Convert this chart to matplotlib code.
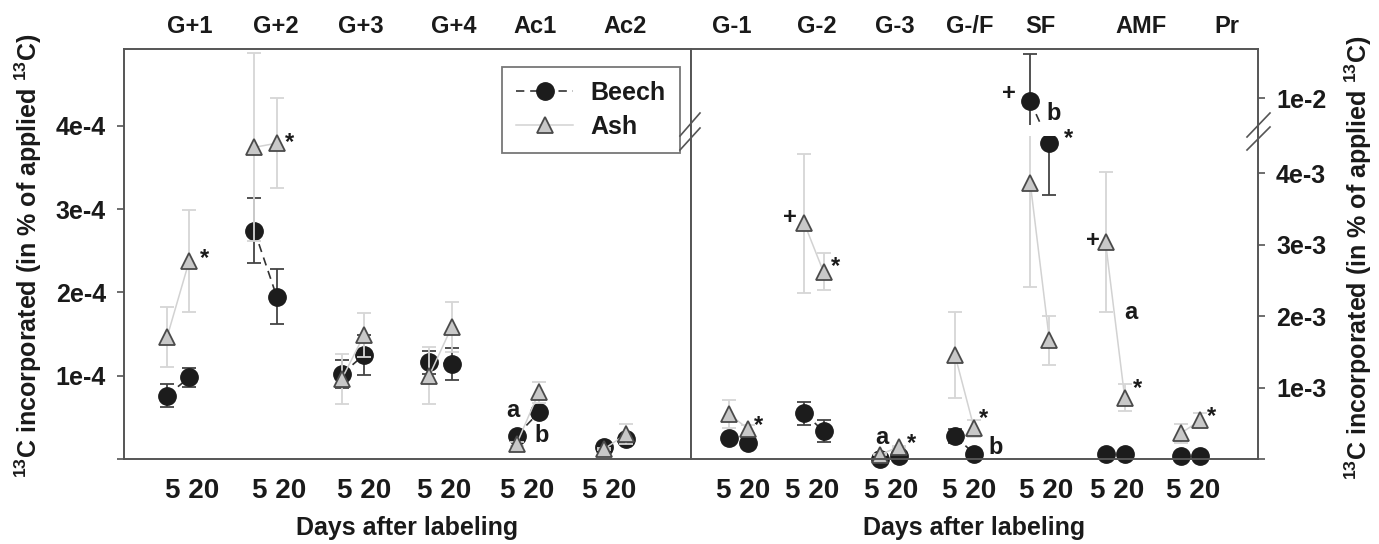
import matplotlib
matplotlib.use("Agg")
import matplotlib.pyplot as plt
import numpy as np
from matplotlib.lines import Line2D

plt.rcParams['font.family'] = ['Liberation Sans', 'DejaVu Sans']
plt.rcParams['font.weight'] = 'bold'
plt.rcParams['mathtext.default'] = 'regular'

# ---- data: left panel (x 1e-4 % of applied 13C) ----
groups_left = ["G+1", "G+2", "G+3", "G+4", "Ac1", "Ac2"]
beech5_left = np.array([0.76, 2.74, 1.02, 1.16, 0.28, 0.15]) * 1e-4
beech5_left_se = np.array([0.135, 0.39, 0.17, 0.14, 0.03, 0.02]) * 1e-4
beech20_left = np.array([0.98, 1.95, 1.25, 1.14, 0.56, 0.24]) * 1e-4
beech20_left_se = np.array([0.115, 0.33, 0.24, 0.195, 0.07, 0.03]) * 1e-4
ash5_left = np.array([1.46, 3.74, 0.96, 1.00, 0.18, 0.12]) * 1e-4
ash5_left_se = np.array([0.36, 1.13, 0.30, 0.34, 0.02, 0.01]) * 1e-4
ash20_left = np.array([2.38, 3.79, 1.49, 1.58, 0.80, 0.30]) * 1e-4
ash20_left_se = np.array([0.61, 0.54, 0.26, 0.30, 0.13, 0.12]) * 1e-4

# ---- data: right panel (x 1e-3 % of applied 13C) ----
groups_right = ["G-1", "G-2", "G-3", "G-/F", "SF", "AMF", "Pr"]
beech5_right = np.array([0.29, 0.64, 0.00, 0.32, 9.96, 0.075, 0.04]) * 1e-3
beech5_right_se = np.array([0.05, 0.16, 0.01, 0.10, 0.66, 0.01, 0.01]) * 1e-3
beech20_right = np.array([0.22, 0.39, 0.04, 0.075, 4.42, 0.075, 0.04]) * 1e-3
beech20_right_se = np.array([0.03, 0.15, 0.01, 0.01, 0.72, 0.01, 0.01]) * 1e-3
ash5_right = np.array([0.63, 3.30, 0.06, 1.46, 3.87, 3.04, 0.36]) * 1e-3
ash5_right_se = np.array([0.19, 0.97, 0.01, 0.60, 1.46, 0.98, 0.13]) * 1e-3
ash20_right = np.array([0.42, 2.62, 0.17, 0.43, 1.66, 0.86, 0.54]) * 1e-3
ash20_right_se = np.array([0.05, 0.26, 0.01, 0.12, 0.34, 0.19, 0.10]) * 1e-3

left_ticks = [0, 1e-4, 2e-4, 3e-4, 4e-4]
left_ticklabels = ["", "1e-4", "2e-4", "3e-4", "4e-4"]
right_ticks = [0, 1e-3, 2e-3, 3e-3, 4e-3, 1e-2]
right_ticklabels = ["", "1e-3", "2e-3", "3e-3", "4e-3", "1e-2"]

# significance marks: (group, day, species, symbol, dx, dy) offsets in pixels
marks_left = [(0, 20, "ash", "*", 15, 2), (1, 20, "ash", "*", 13, 1),
              (4, 20, "beech", "a", -26, 2), (4, 20, "beech", "b", 3, -23)]
marks_right = [(0, 20, "ash", "*", 10, 3), (1, 5, "ash", "+", -14, 6), (1, 20, "ash", "*", 12, 5),
               (2, 5, "ash", "a", 2, 17), (2, 20, "ash", "*", 13, 3),
               (3, 20, "ash", "*", 9, 10), (3, 20, "beech", "b", 22, 6),
               (4, 5, "beech", "+", -21, 8), (4, 5, "beech", "b", 23, -12), (4, 20, "beech", "*", 19, 5),
               (5, 5, "ash", "+", -13, 1), (5, 20, "ash", "a", 6, 85), (5, 20, "ash", "*", 13, 9),
               (6, 20, "ash", "*", 11, 4)]

# label positions (in group units)
top_x_left = [0.26, 1.25, 2.22, 3.28, 4.21, 5.24]
top_x_right = [0.03, 1.17, 2.20, 3.20, 4.14, 5.47, 6.61]
day_x_left = [0.286, 1.28, 2.26, 3.17, 4.12, 5.06]
day_x_right = [0.19, 1.11, 2.15, 3.19, 4.21, 5.15, 6.16]

W, H = 1379, 544
fig = plt.figure(figsize=(W / 100, H / 100), dpi=100)
axL = fig.add_axes([124 / W, (H - 459) / H, 567 / W, 410 / H])
axR = fig.add_axes([691 / W, (H - 459) / H, 567 / W, 410 / H])

# broken y scale for the right panel
B1, B2 = 4.6e-3, 9.55e-3
xp = [-1.0, B1, B2, 1.0]
fp = [-1000.0, 4.6, 4.601, 4.601 + (1.0 - B2) * 1000]


def fwd(v):
    return np.interp(v, xp, fp)


def inv(u):
    return np.interp(u, fp, xp)


axR.set_yscale('function', functions=(fwd, inv))

c_beech_line = "#333333"
c_beech_err = "#444444"
c_ash_line = "#d2d2d2"
c_ash_err = "#d6d6d6"
c_ash_face = "#c8c8c8"
c_edge = "#4a4a4a"
off = 0.255


def draw(ax, b5, b5e, b20, b20e, a5, a5e, a20, a20e):
    n = len(b5)
    x5 = np.arange(n)
    x20 = x5 + off
    for i in range(n):
        ax.plot([x5[i], x20[i]], [b5[i], b20[i]], color=c_beech_line, lw=1.2,
                dashes=(5, 3.5), zorder=2)
    ax.errorbar(x5, b5, yerr=b5e, fmt='none', ecolor=c_beech_err, elinewidth=1.3,
                capsize=4.7, capthick=1.3, zorder=2)
    ax.errorbar(x20, b20, yerr=b20e, fmt='none', ecolor=c_beech_err, elinewidth=1.3,
                capsize=4.7, capthick=1.3, zorder=2)
    ax.plot(x5, b5, 'o', ms=12.5, mfc="#1c1c1c", mec="#1c1c1c", zorder=2.2, clip_on=False)
    ax.plot(x20, b20, 'o', ms=12.5, mfc="#1c1c1c", mec="#1c1c1c", zorder=2.2, clip_on=False)
    for i in range(n):
        ax.plot([x5[i], x20[i]], [a5[i], a20[i]], color=c_ash_line, lw=1.1, zorder=3)
    ax.errorbar(x5, a5, yerr=a5e, fmt='none', ecolor=c_ash_err, elinewidth=1.3,
                capsize=4.7, capthick=1.3, zorder=3)
    ax.errorbar(x20, a20, yerr=a20e, fmt='none', ecolor=c_ash_err, elinewidth=1.3,
                capsize=4.7, capthick=1.3, zorder=3)
    ax.plot(x5, a5, '^', ms=12, mfc=c_ash_face, mec=c_edge, mew=1.3, zorder=3.2, clip_on=False)
    ax.plot(x20, a20, '^', ms=12, mfc=c_ash_face, mec=c_edge, mew=1.3, zorder=3.2, clip_on=False)


def marks(ax, items, data):
    for g, day, sp, sym, dx, dy in items:
        y = data[(sp, day)][g]
        x = g + (off if day == 20 else 0)
        ax.annotate(sym, (x, y), xytext=(dx, dy), textcoords='offset pixels',
                    ha='center', va='center', fontsize=17, fontweight='bold',
                    color="#1a1a1a", zorder=6)


draw(axL, beech5_left, beech5_left_se, beech20_left, beech20_left_se,
     ash5_left, ash5_left_se, ash20_left, ash20_left_se)
draw(axR, beech5_right, beech5_right_se, beech20_right, beech20_right_se,
     ash5_right, ash5_right_se, ash20_right, ash20_right_se)

marks(axL, marks_left, {("beech", 5): beech5_left, ("beech", 20): beech20_left,
                        ("ash", 5): ash5_left, ("ash", 20): ash20_left})
marks(axR, marks_right, {("beech", 5): beech5_right, ("beech", 20): beech20_right,
                         ("ash", 5): ash5_right, ("ash", 20): ash20_right})

axL.set_xlim(-0.492, 5.995)
axL.set_ylim(0, 4.92e-4)
axR.set_xlim(-0.505, 7.025)
axR.set_ylim(0, B2 + (410 / 71.4 - 4.601) * 1e-3)

# white gap at the axis break
axR.axhspan(4.52e-3, 9.62e-3, xmin=0.003, xmax=0.997, color='white', zorder=4, lw=0)

spine_c = "#555555"
for ax in (axL, axR):
    for s in ax.spines.values():
        s.set_color(spine_c)
        s.set_linewidth(1.4)
        s.set_zorder(5)
    ax.set_xticks([])
    ax.tick_params(axis='y', length=5, width=1.2, color=spine_c, pad=8,
                   labelsize=18, labelcolor="#1a1a1a")

axL.set_yticks(left_ticks)
axL.set_yticklabels(left_ticklabels, fontweight='bold')
axR.yaxis.tick_right()
axR.set_yticks(right_ticks)
axR.set_yticklabels(right_ticklabels, fontweight='bold')
axR.yaxis.set_minor_locator(matplotlib.ticker.NullLocator())

for ax, names, tx, dx in ((axL, groups_left, top_x_left, day_x_left),
                          (axR, groups_right, top_x_right, day_x_right)):
    trans = ax.get_xaxis_transform()
    for name, x in zip(names, tx):
        ax.text(x, 1.054, name, transform=trans, ha='center', va='center',
                fontsize=17, fontweight='bold', color="#1a1a1a")
    for x in dx:
        ax.text(x, -0.078, "5 20", transform=trans, ha='center', va='center',
                fontsize=20, fontweight='bold', color="#1a1a1a")
    ax.text(0.5, -0.168, "Days after labeling", transform=ax.transAxes, ha='center',
            va='center', fontsize=18, fontweight='bold', color="#1a1a1a")

ylab = "$^{13}$C incorporated (in % of applied $^{13}$C)"
fig.text(28 / W, 1 - 256 / H, ylab, rotation=90, ha='center', va='center',
         fontsize=18, fontweight='bold', color="#1a1a1a")
fig.text(1358 / W, 1 - 258 / H, ylab, rotation=90, ha='center', va='center',
         fontsize=18, fontweight='bold', color="#1a1a1a")

# break marks
for (x0, y0, x1, y1) in [(680, 136, 700, 113), (680, 150, 700, 128),
                         (1247, 137, 1270, 113), (1247, 150, 1270, 127)]:
    fig.add_artist(Line2D([x0 / W, x1 / W], [1 - y0 / H, 1 - y1 / H], color=spine_c,
                          lw=1.2, transform=fig.transFigure))

# legend
h_beech = Line2D([], [], color=c_beech_line, lw=1.2, dashes=(5, 3.5), marker='o', ms=12.5,
                 mfc="#1c1c1c", mec="#1c1c1c")
h_ash = Line2D([], [], color=c_ash_line, lw=1.1, marker='^', ms=12, mfc=c_ash_face,
               mec=c_edge, mew=1.3)
leg = axL.legend([h_beech, h_ash], ["Beech", "Ash"], loc='upper left',
                 bbox_to_anchor=((502 - 124) / 567, (459 - 67) / 410),
                 prop={'size': 18, 'weight': 'bold'}, frameon=True, fancybox=False,
                 edgecolor=spine_c, handlelength=2.3, handletextpad=0.7,
                 labelspacing=0.4, borderpad=0.55, borderaxespad=0)
leg.get_frame().set_linewidth(1.3)
for t in leg.get_texts():
    t.set_color("#1a1a1a")

fig.savefig("out.png", dpi=100)
